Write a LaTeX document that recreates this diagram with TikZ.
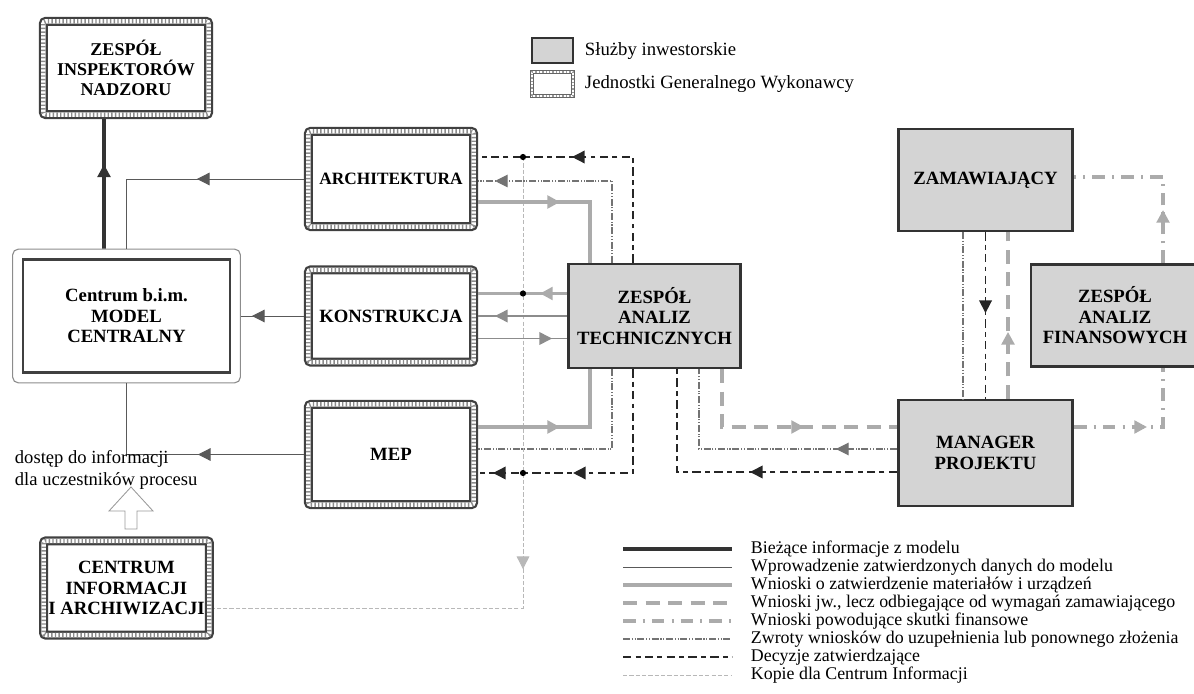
\documentclass[tikz,border=0pt]{standalone}
\usepackage{fontspec}
\setmainfont{Liberation Serif}
\usetikzlibrary{arrows.meta,decorations.markings,fit}

\begin{document}
\begin{tikzpicture}[x=0.025cm, y=-0.025cm,
boxfont/.style={font=\fontsize{13.3}{14.6}\selectfont\bfseries, align=center},
legfont/.style={font=\fontsize{13.3}{15}\selectfont},
keyfont/.style={font=\fontsize{12.7}{15}\selectfont},
genbox/.style={boxfont, draw=black!75, line width=6.4pt, fill=white, rounded corners=1.5pt, minimum width=4.125cm,
  postaction={draw=white, line width=3.2pt},
  postaction={draw=black!45, line width=3.2pt, dash pattern=on 1pt off 1.6pt}},
genleg/.style={draw=black!60, line width=3pt, fill=white, minimum width=1.025cm, minimum height=0.6cm,
  postaction={draw=white, line width=1.4pt},
  postaction={draw=black!40, line width=1.4pt, dash pattern=on 1pt off 1.4pt}},
invbox/.style={boxfont, draw=black!80, line width=1.8pt, fill=black!17},
bimbox/.style={boxfont, draw=black!75, line width=1.6pt, minimum width=5.175cm, minimum height=2.825cm},
bimframe/.style={draw=black!45, line width=0.8pt, rounded corners=4pt, inner sep=0.23cm},
curr/.style={draw=black!80, line width=2.5pt},
entry/.style={draw=black!65, line width=0.7pt},
req/.style={draw=black!33, line width=2.6pt},
reqthin/.style={draw=black!45, line width=1.1pt},
reqdev/.style={draw=black!33, line width=2.2pt, dash pattern=on 10pt off 6pt},
fin/.style={draw=black!33, line width=2.2pt, dash pattern=on 9pt off 5pt on 1.5pt off 5pt},
ret/.style={draw=black!55, line width=0.8pt, dash pattern=on 5pt off 1.2pt on 0.8pt off 1.2pt on 0.8pt off 1.2pt},
dec/.style={draw=black!85, line width=1.1pt, dash pattern=on 6pt off 3pt on 3.5pt off 3pt},
copyln/.style={draw=black!28, line width=0.6pt, dash pattern=on 3pt off 1.5pt},
midarrow/.style={postaction={decorate, decoration={markings, mark=at position #1 with {\arrow{Triangle[length=9pt,width=9pt]}}}}},
]
\useasboundingbox (0,0) rectangle (1194,694);
\clip (0,0) rectangle (1194,694);

% boxes
\node[genbox, minimum height=2.325cm, font=\fontsize{12.8}{14.4}\selectfont\bfseries] at(126,68) (insp) {ZESPÓŁ\\INSPEKTORÓW\\NADZORU};
\node[genbox, minimum height=2.375cm, font=\fontsize{12.3}{13.5}\selectfont\bfseries] at(391,179) (arch) {ARCHITEKTURA};
\node[genbox, minimum height=2.3cm] at(391,316) (kons) {KONSTRUKCJA};
\node[genbox, minimum height=2.5cm] at(391,454.5) (mep) {MEP};
\node[genbox, minimum width=4.1cm, minimum height=2.35cm] at(126.5,588) (cia) {CENTRUM\\INFORMACJI\\I ARCHIWIZACJI};
\node[bimbox] at(126.5,316) (bim) {Centrum b.i.m.\\MODEL\\CENTRALNY};
\node[bimframe, fit=(bim)] (bimout) {};
\node[invbox, minimum width=4.31cm, minimum height=2.59cm] at(654.5,316) (zat) {ZESPÓŁ\\ANALIZ\\TECHNICZNYCH};
\node[invbox, minimum width=4.36cm, minimum height=2.54cm] at(985.5,180) (zam) {ZAMAWIAJĄCY};
\node[invbox, minimum width=4.2cm, minimum height=2.56cm] at(1115,315.5) (zaf) {ZESPÓŁ\\ANALIZ\\FINANSOWYCH};
\node[invbox, minimum width=4.36cm, minimum height=2.64cm] at(985.5,453) (man) {MANAGER\\PROJEKTU};

% copies
\coordinate (kop1) at (523,157);
\coordinate (kop2) at (523,293.5);
\coordinate (kop3) at (523,473);
\draw[copyln, midarrow=10.3cm] (kop1) |- ([yshift=-0.5cm]cia.east);

% model
\draw[curr, midarrow=0.65] ([xshift=-0.5625cm]bimout.north) -- ([xshift=-0.55cm]insp.south);
\draw[entry, midarrow=2.675cm] (arch.west) -| (bimout.north);
\draw[entry, midarrow=1.3cm] (kons.west) -- (bimout.east);
\draw[entry, midarrow=2.65cm] (mep.west) -| (bimout.south);

% architektura
\draw[dec, midarrow=-2.35cm] ([xshift=-0.5375cm]zat.north) |- ([yshift=0.55cm]arch.east);
\draw[ret, midarrow=-0.425cm] ([xshift=-1.0625cm]zat.north) |- ([yshift=-0.05cm]arch.east);
\draw[req, midarrow=2.05cm] ([yshift=-0.575cm]arch.east) -| ([xshift=-1.6125cm]zat.north);

% konstrukcja
\draw[req, midarrow=0.675cm] ([yshift=0.5625cm]zat.west) -- ([yshift=0.5625cm]kons.east);
\draw[reqthin, midarrow=-0.425cm] (zat.west) -- (kons.east);
\draw[reqthin, midarrow=-0.375cm] ([yshift=-0.5625cm]kons.east) -- ([yshift=-0.5625cm]zat.west);

% MEP
\draw[req, midarrow=2.05cm] ([yshift=0.6875cm]mep.east) -| ([xshift=-1.6125cm]zat.south);
\draw[ret] ([xshift=-1.0625cm]zat.south) |- ([yshift=0.1375cm]mep.east);
\draw[dec, midarrow=-2.375cm, midarrow=-0.375cm] ([xshift=-0.5375cm]zat.south) |- ([yshift=-0.4625cm]mep.east);

\fill (kop1) circle[radius=2.2pt];
\fill (kop2) circle[radius=2.2pt];
\fill (kop3) circle[radius=2.2pt];

% manager
\draw[dec, midarrow=3.675cm] ([yshift=-0.475cm]man.west) -| ([xshift=0.5625cm]zat.south);
\draw[ret, midarrow=1.525cm] ([yshift=0.1cm]man.west) -| ([xshift=1.1125cm]zat.south);
\draw[reqdev, midarrow=-2.325cm] ([xshift=1.6875cm]zat.south) |- ([yshift=0.65cm]man.west);

\draw[ret] ([xshift=-0.5625cm]zam.south) -- ([xshift=-0.5625cm]man.north);
\draw[dec, midarrow=2.025cm] (zam.south) -- (man.north);
\draw[reqdev, midarrow=1.675cm] ([xshift=0.5625cm]man.north) -- ([xshift=0.5625cm]zam.south);

\draw[fin, midarrow=1.825cm] ([yshift=0.65cm]man.east) -| ([xshift=1.2cm]zaf.south);
\draw[fin, midarrow=1.325cm] ([xshift=1.2cm]zaf.north) |- ([yshift=0.075cm]zam.east);

% access
\node[anchor=west, align=left, font=\fontsize{13.2}{16}\selectfont] at(10,470) (acc) {dostęp do informacji\\dla uczestników procesu};
\draw[black!40, fill=white, line width=0.6pt] (125,529) -- (125,511) -- (109,511) -- (131,487) -- (153,511) -- (137,511) -- (137,529) -- cycle;

% legend
\node[invbox, minimum width=1.025cm, minimum height=0.625cm] at(552.5,50.5) (legA) {};
\node[legfont, anchor=west] at(580,51) (legAtxt) {Służby inwestorskie};
\node[genleg] at(552.5,84) (legB) {};
\node[legfont, anchor=west] at(580,84) (legBtxt) {Jednostki Generalnego Wykonawcy};

\draw[curr] (623,549) -- (732,549);
\node[keyfont, anchor=west] at(746,549) (leg1) {Bieżące informacje z modelu};
\draw[entry] (623,567) -- (732,567);
\node[keyfont, anchor=west] at(746,567) (leg2) {Wprowadzenie zatwierdzonych danych do modelu};
\draw[req] (623,585) -- (732,585);
\node[keyfont, anchor=west] at(746,585) (leg3) {Wnioski o zatwierdzenie materiałów i urządzeń};
\draw[reqdev] (623,603) -- (732,603);
\node[keyfont, anchor=west] at(746,603) (leg4) {Wnioski jw., lecz odbiegające od wymagań zamawiającego};
\draw[fin] (623,621) -- (732,621);
\node[keyfont, anchor=west] at(746,621) (leg5) {Wnioski powodujące skutki finansowe};
\draw[ret] (623,639) -- (732,639);
\node[keyfont, anchor=west] at(746,639) (leg6) {Zwroty wniosków do uzupełnienia lub ponownego złożenia};
\draw[dec] (623,657) -- (732,657);
\node[keyfont, anchor=west] at(746,657) (leg7) {Decyzje zatwierdzające};
\draw[copyln] (623,675) -- (732,675);
\node[keyfont, anchor=west] at(746,675) (leg8) {Kopie dla Centrum Informacji};

\end{tikzpicture}
\end{document}
